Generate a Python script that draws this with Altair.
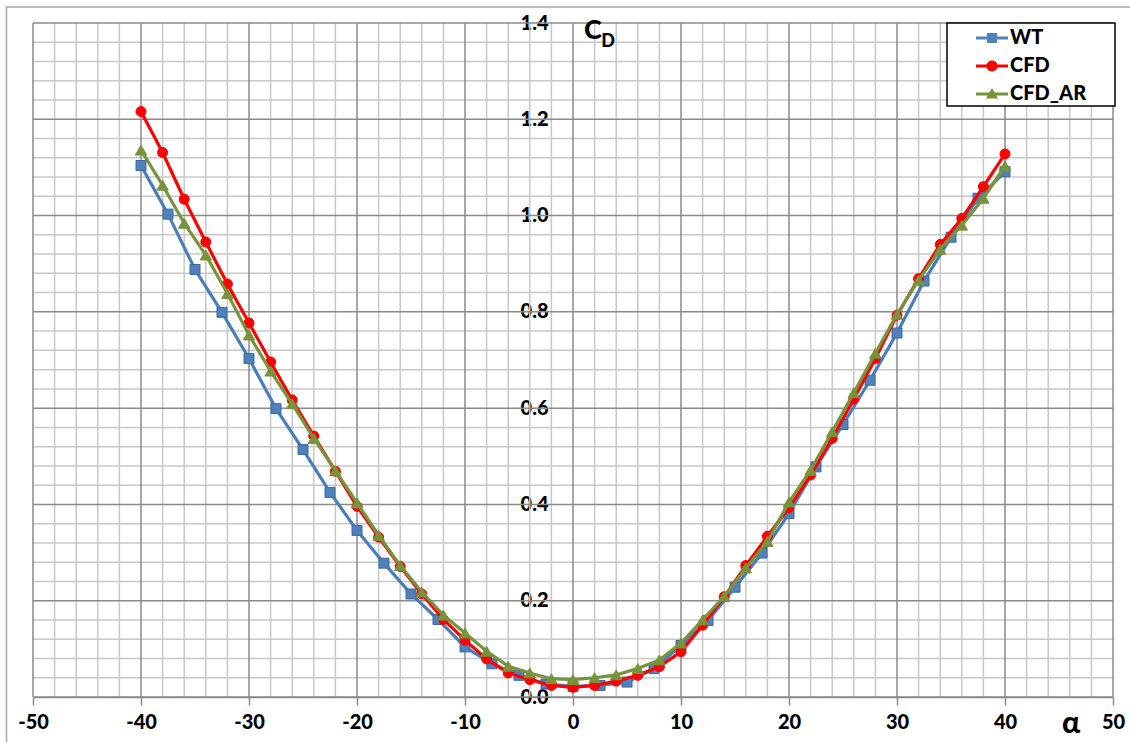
import altair as alt
import pandas as pd

# Drag coefficient vs. angle of attack: wind tunnel, CFD and CFD with aspect-ratio correction
series_names = ["WT", "CFD", "CFD_AR"]

alpha_wt = [-40, -37.5, -35, -32.5, -30, -27.5, -25, -22.5, -20, -17.5, -15, -12.5, -10, -7.5, -5, -2.5,
            0, 2.5, 5, 7.5, 10, 12.5, 15, 17.5, 20, 22.5, 25, 27.5, 30, 32.5, 35, 37.5, 40]
cd_wt = [1.104, 1.003, 0.888, 0.799, 0.703, 0.599, 0.514, 0.425, 0.346, 0.278, 0.214, 0.161, 0.104, 0.069,
         0.045, 0.027, 0.022, 0.024, 0.031, 0.059, 0.107, 0.159, 0.228, 0.299, 0.381, 0.478, 0.566, 0.658,
         0.756, 0.864, 0.955, 1.036, 1.091]

alpha_cfd = [-40, -38, -36, -34, -32, -30, -28, -26, -24, -22, -20, -18, -16, -14, -12, -10, -8, -6, -4, -2,
             0, 2, 4, 6, 8, 10, 12, 14, 16, 18, 20, 22, 24, 26, 28, 30, 32, 34, 36, 38, 40]
cd_cfd = [1.216, 1.131, 1.034, 0.945, 0.858, 0.777, 0.696, 0.617, 0.542, 0.469, 0.396, 0.332, 0.271, 0.214,
          0.161, 0.118, 0.079, 0.050, 0.036, 0.024, 0.020, 0.024, 0.033, 0.045, 0.063, 0.094, 0.149, 0.208,
          0.273, 0.334, 0.393, 0.461, 0.537, 0.619, 0.703, 0.793, 0.869, 0.940, 0.994, 1.060, 1.128]
cd_cfd_ar = [1.136, 1.063, 0.984, 0.918, 0.838, 0.752, 0.677, 0.609, 0.537, 0.470, 0.403, 0.336, 0.273, 0.218,
             0.170, 0.133, 0.095, 0.064, 0.050, 0.038, 0.036, 0.040, 0.046, 0.059, 0.077, 0.112, 0.160, 0.209,
             0.268, 0.323, 0.405, 0.471, 0.551, 0.632, 0.714, 0.795, 0.866, 0.930, 0.980, 1.036, 1.103]

x_major = [-50, -40, -30, -20, -10, 0, 10, 20, 30, 40, 50]
y_major = [0.0, 0.2, 0.4, 0.6, 0.8, 1.0, 1.2, 1.4]
x_minor = [v for v in range(-50, 51, 2) if v % 10 != 0]
y_minor = [round(i * 0.04, 2) for i in range(36) if i % 5 != 0]

line_colors = ["#4A7EBB", "#FF0000", "#77933C"]
marker_fill = ["#4F81BD", "#FF0000", "#77933C"]

FONT = "Lato, Carlito, DejaVu Sans"
WEIGHT = 900
W, H = 1080, 674

x_enc = alt.X(
    "a:Q",
    scale=alt.Scale(domain=[-50, 50], nice=False, zero=False),
    axis=alt.Axis(values=x_major, labelExpr="'' + datum.value", grid=False, domain=True,
                  domainColor="#8A8A8A", domainWidth=1.5, ticks=True, tickSize=8, tickColor="#8A8A8A",
                  tickWidth=1.5, labelFont=FONT, labelFontWeight=WEIGHT, labelFontSize=20,
                  labelColor="black", labelPadding=7, labelFlush=False, labelOverlap=False, title=None),
)
y_enc = alt.Y(
    "c:Q",
    scale=alt.Scale(domain=[0, 1.4], nice=False, zero=False),
    axis=alt.Axis(values=y_major, format=".1f", grid=False, domain=False, ticks=False, tickSize=0,
                  labelPadding=25, offset=-540, labelFont=FONT, labelFontWeight=WEIGHT, labelFontSize=20,
                  labelColor="black", labelFlush=False, labelOverlap=False, title=None),
)

# outer chart border
one = pd.DataFrame({"k": [0]})
frame = alt.Chart(one).mark_rect(fillOpacity=0, stroke="#A6A6A6", strokeWidth=1.5).encode(
    x=alt.value(-26.5), x2=alt.value(1140), y=alt.value(-16), y2=alt.value(760)
)

# grid
gx_minor = alt.Chart(pd.DataFrame({"a": x_minor})).mark_rule(color="#C8C8C8", strokeWidth=1.5).encode(x=x_enc)
gy_minor = alt.Chart(pd.DataFrame({"c": y_minor})).mark_rule(color="#C8C8C8", strokeWidth=1.5).encode(y=y_enc)
gx_major = alt.Chart(pd.DataFrame({"a": x_major})).mark_rule(color="#8A8A8A", strokeWidth=1.5).encode(x=x_enc)
gy_major = alt.Chart(pd.DataFrame({"c": y_major})).mark_rule(color="#8A8A8A", strokeWidth=1.5).encode(y=y_enc)

# series
series_data = [
    pd.DataFrame({"a": alpha_wt, "c": cd_wt}),
    pd.DataFrame({"a": alpha_cfd, "c": cd_cfd}),
    pd.DataFrame({"a": alpha_cfd, "c": cd_cfd_ar}),
]
shapes = ["square", "circle", "triangle-up"]
sizes = [100, 100, 130]
strokes = ["#3C6A9E", "#FF0000", "#77933C"]

series_layers = []
for df, lc, mf, shp, sz, sk in zip(series_data, line_colors, marker_fill, shapes, sizes, strokes):
    ln = alt.Chart(df).mark_line(color=lc, strokeWidth=3.2).encode(x=x_enc, y=y_enc)
    pt = alt.Chart(df).mark_point(filled=True, shape=shp, size=sz, fill=mf, stroke=sk,
                                  strokeWidth=1, opacity=1).encode(x=x_enc, y=y_enc)
    series_layers += [ln, pt]

# legend: line-with-marker symbols
seg = "M-1.6,-0.15 L1.6,-0.15 L1.6,0.15 L-1.6,0.15 Z "
legend_paths = [
    seg + "M-0.5,-0.5 L0.5,-0.5 L0.5,0.5 L-0.5,0.5 Z",
    seg + "M0.55,0 A0.55,0.55 0 1,1 -0.55,0 A0.55,0.55 0 1,1 0.55,0 Z",
    seg + "M0,-0.6 L0.6,0.45 L-0.6,0.45 Z",
]
leg = alt.Legend(orient="none", legendX=949, legendY=5, title=None, padding=0,
                 labelFont=FONT, labelFontSize=20, labelFontWeight=WEIGHT, labelColor="black",
                 labelOffset=8, rowPadding=8, symbolSize=400, symbolStrokeWidth=0, symbolOpacity=1)
legend_box = alt.Chart(one).mark_rect(fill="white", stroke="black", strokeWidth=1.5).encode(
    x=alt.value(914), x2=alt.value(1082), y=alt.value(0), y2=alt.value(83)
)
legend_layer = alt.Chart(pd.DataFrame({"s": series_names, "a": [0, 0, 0], "c": [0, 0, 0]})).mark_point(
    filled=True, size=400, opacity=1
).encode(
    x=x_enc, y=y_enc,
    color=alt.Color("s:N", scale=alt.Scale(domain=series_names, range=marker_fill), legend=leg),
    shape=alt.Shape("s:N", scale=alt.Scale(domain=series_names, range=legend_paths), legend=leg),
).transform_filter("false")

# axis captions
cap_c = alt.Chart(pd.DataFrame({"t": ["C"]})).mark_text(
    font=FONT, fontWeight=WEIGHT, fontSize=27, color="black", align="center", baseline="alphabetic"
).encode(text="t:N", x=alt.value(560), y=alt.value(16))
cap_d = alt.Chart(pd.DataFrame({"t": ["D"]})).mark_text(
    font=FONT, fontWeight=WEIGHT, fontSize=18, color="black", align="center", baseline="alphabetic"
).encode(text="t:N", x=alt.value(575), y=alt.value(24))
cap_a = alt.Chart(pd.DataFrame({"t": ["α"]})).mark_text(
    font=FONT, fontWeight=WEIGHT, fontSize=30, color="black", align="center", baseline="middle"
).encode(text="t:N", x=alt.value(1038), y=alt.value(701))

chart = alt.layer(
    frame, gx_minor, gy_minor, gx_major, gy_major, *series_layers,
    legend_box, legend_layer, cap_c, cap_d, cap_a
).properties(
    width=W, height=H,
    autosize=alt.AutoSizeParams(type="none"),
    padding={"left": 33, "top": 23, "right": 17, "bottom": 45},
    background="white",
).configure_view(stroke=None)

chart.save("out.html", embed_options={"renderer": "svg", "actions": False})
